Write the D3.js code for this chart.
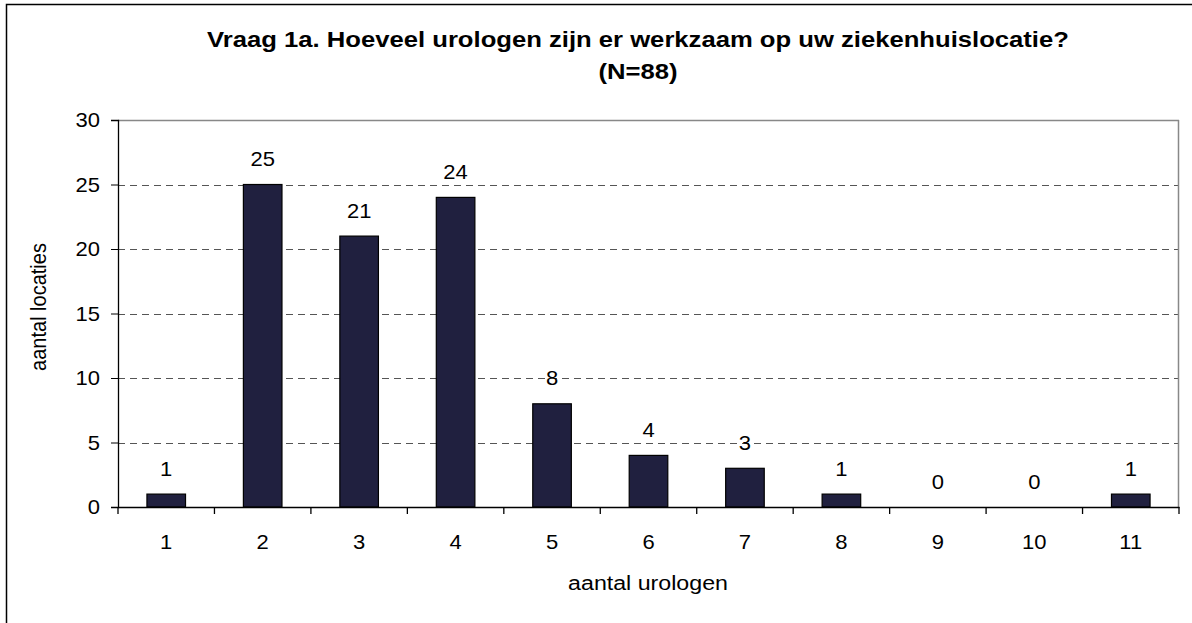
<!DOCTYPE html>
<html><head><meta charset="utf-8">
<script src="https://cdn.jsdelivr.net/npm/d3@7"></script>
<style>body{margin:0;background:#fff}svg{display:block}text{font-family:Arial,"Liberation Sans",sans-serif;fill:#000}</style>
</head><body>
<svg id="c" width="1192" height="623"></svg>
<script>
const categories = ["1","2","3","4","5","6","7","8","9","10","11"];
const values = [1,25,21,24,8,4,3,1,0,0,1];
const yTicks = [0,5,10,15,20,25,30];
const titleLines = ["Vraag 1a. Hoeveel urologen zijn er werkzaam op uw ziekenhuislocatie?","(N=88)"];
const xLabel = "aantal urologen";
const yLabel = "aantal locaties";

const SX = 1.1; // horizontal stretch of the reference text
const FS = 20;
const svg = d3.select("#c");
const m = {l:118, r:1179, t:120, b:507};
svg.append("rect").attr("x",6.5).attr("y",4.5).attr("width",1200).attr("height",700)
  .attr("fill","#fff").attr("stroke","#000").attr("stroke-width",1.5);

const x = d3.scaleBand().domain(categories).range([m.l,m.r]).paddingInner(0.6).paddingOuter(0.3);
const xb = d3.scaleBand().domain(categories).range([m.l,m.r]);
const y = d3.scaleLinear().domain([0,30]).range([m.b,m.t]);

function place(sel, fx, fy, sx){
  sel.attr("transform",(d,i)=>`translate(${fx(d,i)},${fy(d,i)}) scale(${sx},1)`);
}

// grid
svg.append("g").selectAll("line").data(yTicks.filter(d=>d>0&&d<30)).join("line")
  .attr("x1",m.l).attr("x2",m.r).attr("y1",d=>Math.round(y(d))+0.5).attr("y2",d=>Math.round(y(d))+0.5)
  .attr("stroke","#555").attr("stroke-dasharray","7,5").attr("stroke-width",1);
svg.append("line").attr("x1",m.l).attr("x2",m.r).attr("y1",m.t+0.5).attr("y2",m.t+0.5).attr("stroke","#888").attr("stroke-width",1.5);
svg.append("line").attr("x1",m.r-0.5).attr("x2",m.r-0.5).attr("y1",m.t).attr("y2",m.b).attr("stroke","#888").attr("stroke-width",1.5);

// bars
svg.append("g").selectAll("rect").data(values).join("rect")
  .attr("x",(d,i)=>x(categories[i])).attr("width",x.bandwidth())
  .attr("y",d=>y(d)).attr("height",d=>m.b-y(d))
  .attr("fill","#20203f").attr("stroke","#000").attr("stroke-width",1.2);

// value labels
svg.append("g").selectAll("text").data(values).join("text")
  .attr("text-anchor","middle").attr("font-size",FS).text(d=>d)
  .call(place,(d,i)=>x(categories[i])+x.bandwidth()/2,d=>y(d)-18.5,SX);

// y axis
const ya = svg.append("g").attr("transform",`translate(${m.l},0)`)
  .call(d3.axisLeft(y).tickValues(yTicks).tickSize(7).tickFormat(""));
ya.select(".domain").attr("stroke","#000").attr("stroke-width",1.3);
ya.selectAll("line").attr("stroke","#000");
svg.append("g").selectAll("text").data(yTicks).join("text")
  .attr("text-anchor","end").attr("font-size",FS).text(d=>d)
  .call(place,()=>100,d=>y(d)+7,SX);

// x axis
const xa = svg.append("g").attr("transform",`translate(0,${m.b})`)
  .call(d3.axisBottom(xb).tickSize(0).tickFormat(""));
xa.select(".domain").attr("stroke","#000").attr("stroke-width",1.3);
svg.append("g").selectAll("line").data(d3.range(categories.length+1)).join("line")
  .attr("x1",i=>m.l+i*xb.step()).attr("x2",i=>m.l+i*xb.step())
  .attr("y1",m.b).attr("y2",m.b+7).attr("stroke","#000").attr("stroke-width",1.3);
svg.append("g").selectAll("text").data(categories).join("text")
  .attr("text-anchor","middle").attr("font-size",FS).text(d=>d)
  .call(place,d=>xb(d)+xb.bandwidth()/2,()=>549,SX);

// title
svg.append("g").selectAll("text").data(titleLines).join("text")
  .attr("text-anchor","middle").attr("font-size",22.5).attr("font-weight","bold").text(d=>d)
  .call(place,()=>638,(d,i)=>47+i*32,1.14);

svg.append("text").attr("text-anchor","middle").attr("font-size",FS).text(xLabel)
  .attr("transform",`translate(648,590) scale(1.16,1)`);
svg.append("text").attr("text-anchor","middle").attr("font-size",FS).text(yLabel)
  .attr("transform",`translate(46,307) rotate(-90) scale(1,${SX})`);
</script>
</body></html>
